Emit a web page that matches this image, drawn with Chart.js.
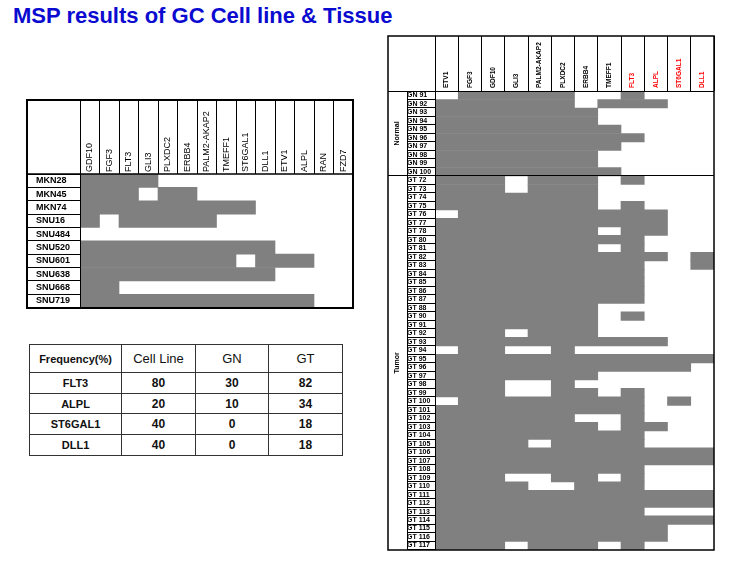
<!DOCTYPE html>
<html>
<head>
<meta charset="utf-8">
<script src="https://cdn.jsdelivr.net/npm/chart.js@4.4.1/dist/chart.umd.min.js"></script>
<style>
  body { margin:0; background:#fff; width:738px; height:561px; overflow:hidden; position:relative; font-family:"Liberation Sans", Arial, sans-serif; }
  #title { position:absolute; left:13px; top:3px; margin:0; font-size:22px; font-weight:bold; color:#0a0ad0; white-space:nowrap; line-height:normal; }
  #cellChart { position:absolute; left:18px; top:96px; }
  #tissueChart { position:absolute; left:383px; top:31px; }
  #freq { position:absolute; left:29px; top:344px; border-collapse:collapse; table-layout:fixed; width:314px; }
  #freq td { border:1px solid #333; text-align:center; padding:0; color:#111; }
  #freq td.lab { font-weight:bold; font-size:11px; }
  #freq td.head { font-size:13px; }
  #freq td.num { font-weight:bold; font-size:12px; }
</style>
</head>
<body>
<h1 id="title">MSP results of GC Cell line &amp; Tissue</h1>
<canvas id="cellChart" width="340" height="220"></canvas>
<canvas id="tissueChart" width="338" height="526"></canvas>
<table id="freq"></table>
<script>
// cell line panel
const cellLines = ['MKN28','MKN45','MKN74','SNU16','SNU484','SNU520','SNU601','SNU638','SNU668','SNU719'];
const cellGenes = ['GDF10','FGF3','FLT3','GLI3','PLXDC2','ERBB4','PALM2-AKAP2','TMEFF1','ST6GAL1','DLL1','ETV1','ALPL','RAN','FZD7'];
// 1 = methylated (grey cell)
const cellMsp = [
  '11110000000000',
  '11101100000000',
  '11111111100000',
  '10111110000000',
  '00000000000000',
  '11111111110000',
  '11111111011100',
  '11111111110000',
  '11000000000000',
  '11111111111100'
];

// tissue panel
const tissueGenes = ['ETV1','FGF3','GDF10','GLI3','PALM2-AKAP2','PLXDC2','ERBB4','TMEFF1','FLT3','ALPL','ST6GAL1','DLL1'];
const redGenes = ['FLT3','ALPL','ST6GAL1','DLL1'];
const groupNames = ['Normal','Tumor'];
const normalRows = ['GN 91','GN 92','GN 93','GN 94','GN 95','GN 96','GN 97','GN 98','GN 99','GN 100'];
const normalMsp = [
  '011111001000','111111011100','111111100000','111111100000','111111110000',
  '111111111000','111111110000','111111100000','111111100000','111111110000'
];
const tumorRows = ['GT 72','GT 73','GT 74','GT 75','GT 76','GT 77','GT 78','GT 80','GT 81','GT 82',
  'GT 83','GT 84','GT 85','GT 86','GT 87','GT 88','GT 90','GT 91','GT 92','GT 93',
  'GT 94','GT 95','GT 96','GT 97','GT 98','GT 99','GT 100','GT 101','GT 102','GT 103',
  'GT 104','GT 105','GT 106','GT 107','GT 108','GT 109','GT 110','GT 111','GT 112','GT 113',
  'GT 114','GT 115','GT 116','GT 117'];
const tumorMsp = [
  '111011101000','111011100000','111111100000','111111101000','011111111100',
  '111111111100','111111101100','111111111000','111111101000','111111111101',
  '111111111001','111111111000','111111111000','111111111000','111111111000',
  '111111100000','111111101000','111111100000','111011100000','111111111100',
  '011001000000','111111111111','111111111110','111111100000','111001000000',
  '111001101000','011111111010','111111111000','111111001000','111111101100',
  '111111111000','111101111000','111111111111','111111111111','111111111000',
  '111001101000','111100111000','111111111111','111111111111','111111111000',
  '111111111111','111111111100','111111111100','111011101000'
];

// frequency table
const freqHeads = ['Frequency(%)','Cell Line','GN','GT'];
const freqGenes = ['FLT3','ALPL','ST6GAL1','DLL1'];
const freqCellLine = [80,20,40,40];
const freqGN = [30,10,0,0];
const freqGT = [82,34,18,18];

Chart.defaults.font.family = '"Liberation Sans", Arial, sans-serif';
const GREY = '#808080';

// turn rows of 0/1 into floating bars, one per run of grey cells
function runs(msp, rows) {
  const out = [];
  msp.forEach((r, i) => {
    let s = -1;
    for (let c = 0; c <= r.length; c++) {
      const on = r[c] === '1';
      if (on && s < 0) s = c;
      if (!on && s >= 0) { out.push({ y: rows[i], x: [s, c] }); s = -1; }
    }
  });
  return out;
}

const al = (v, w) => (Math.round(w) % 2 ? Math.floor(v) + 0.5 : Math.round(v));

const gridFrame = {
  id: 'gridFrame',
  afterDraw(chart, args, o) {
    const { ctx, chartArea: a, scales } = chart;
    const y = scales.y;
    const left = o.outerAxis ? scales[o.outerAxis].left : y.right - y.options.grid.tickLength;
    const top = scales.x2.top;
    const seg = (x1, y1, x2, y2, w, vert) => {
      ctx.lineWidth = w;
      ctx.beginPath();
      if (vert) { ctx.moveTo(al(x1, w), y1); ctx.lineTo(al(x2, w), y2); }
      else { ctx.moveTo(x1, al(y1, w)); ctx.lineTo(x2, al(y2, w)); }
      ctx.stroke();
    };
    ctx.save();
    ctx.strokeStyle = '#000';
    seg(left, a.top, a.right, a.top, o.headLine, false);
    seg(a.left, top, a.left, a.bottom, 1, true);
    if (o.innerAxis) seg(scales[o.innerAxis].left, a.top, scales[o.innerAxis].left, a.bottom, 1, true);
    (o.splits || []).forEach(v => {
      const py = y.getPixelForValue(v);
      seg(left, py, a.right, py, 1, false);
    });
    ctx.lineWidth = o.outerLine;
    ctx.strokeRect(Math.round(left), Math.round(top), Math.round(a.right - left), Math.round(a.bottom - top));
    ctx.restore();
  }
};

function panel(id, rows, genes, msp, cfg) {
  const scales = {
    x: { type: 'linear', display: false, min: 0, max: genes.length },
    x2: {
      type: 'category', axis: 'x', position: 'top', labels: genes, offset: true,
      grid: { offset: true, drawOnChartArea: false, tickLength: cfg.headH, color: '#000' },
      border: { display: false },
      ticks: {
        autoSkip: false, minRotation: 90, maxRotation: 90,
        padding: -cfg.headH + cfg.headGap, labelOffset: cfg.headFont.size * 1.2,
        font: cfg.headFont, color: cfg.headColor || '#000'
      },
      afterFit: s => { s.height = cfg.headH; }
    },
    y: {
      type: 'category', position: 'left', labels: rows, offset: true, weight: 0,
      grid: { offset: true, drawOnChartArea: false, tickLength: cfg.labW, color: '#000' },
      border: { display: false },
      ticks: { autoSkip: false, crossAlign: 'far', font: cfg.rowFont, color: '#000' },
      afterFit: s => { s.width = cfg.labAxisW; }
    }
  };
  if (cfg.groups) Object.assign(scales, cfg.groups);
  return new Chart(document.getElementById(id), {
    type: 'bar',
    data: {
      datasets: [{
        data: runs(msp, rows), xAxisID: 'x', yAxisID: 'y',
        backgroundColor: GREY, borderWidth: 0,
        categoryPercentage: 1, barPercentage: 1
      }]
    },
    options: {
      indexAxis: 'y', responsive: false, animation: false, events: [],
      layout: { padding: cfg.pad },
      plugins: { legend: { display: false }, tooltip: { enabled: false }, gridFrame: cfg.frame },
      scales
    },
    plugins: [gridFrame]
  });
}

panel('cellChart', cellLines, cellGenes, cellMsp, {
  headH: 74, headGap: 2,
  headFont: { size: 9 },
  labW: 53, labAxisW: 44,
  rowFont: { size: 9, weight: 'bold' },
  pad: { left: 18, top: 4, right: 5, bottom: 5 },
  frame: { headLine: 1.5, outerLine: 2 }
});

const tissueRows = normalRows.concat(tumorRows);
panel('tissueChart', tissueRows, tissueGenes, normalMsp.concat(tumorMsp), {
  headH: 55, headGap: 3,
  headFont: { size: 6.5, weight: 'bold' },
  headColor: c => redGenes.includes(tissueGenes[c.index]) ? '#ff0000' : '#000',
  labW: 28, labAxisW: 28,
  rowFont: { size: 7, weight: 'bold' },
  pad: { left: 5, top: 5, right: 7, bottom: 6 },
  frame: { outerAxis: 'yg', innerAxis: 'y', headLine: 1, outerLine: 1.5, splits: [normalRows.length - 0.5] },
  groups: {
    yg: {
      type: 'linear', axis: 'y', position: 'left', weight: 1, reverse: true, offset: false,
      min: 0, max: tissueRows.length,
      grid: { display: false, drawTicks: false }, border: { display: false },
      afterBuildTicks: s => {
        s.ticks = [{ value: normalRows.length / 2 }, { value: normalRows.length + tumorRows.length / 2 }];
      },
      ticks: {
        autoSkip: false, minRotation: 90, maxRotation: 90, crossAlign: 'center', padding: -2.5,
        font: { size: 7, weight: 'bold' }, color: '#000',
        callback: (v, i) => groupNames[i]
      },
      afterFit: s => { s.width = 19; }
    }
  }
});

// frequency table
const tbl = document.getElementById('freq');
const colW = [92, 74, 73, 74];
const cg = document.createElement('colgroup');
colW.forEach(w => { const c = document.createElement('col'); c.style.width = w + 'px'; cg.appendChild(c); });
tbl.appendChild(cg);
function addRow(cells, h, classes) {
  const tr = document.createElement('tr');
  tr.style.height = h + 'px';
  cells.forEach((t, i) => {
    const td = document.createElement('td');
    td.className = classes[i];
    td.textContent = t;
    tr.appendChild(td);
  });
  tbl.appendChild(tr);
}
addRow(freqHeads, 28, ['lab', 'head', 'head', 'head']);
const rowH = [21, 20, 21, 21];
freqGenes.forEach((g, i) => {
  addRow([g, freqCellLine[i], freqGN[i], freqGT[i]], rowH[i], ['lab', 'num', 'num', 'num']);
});
</script>
</body>
</html>
